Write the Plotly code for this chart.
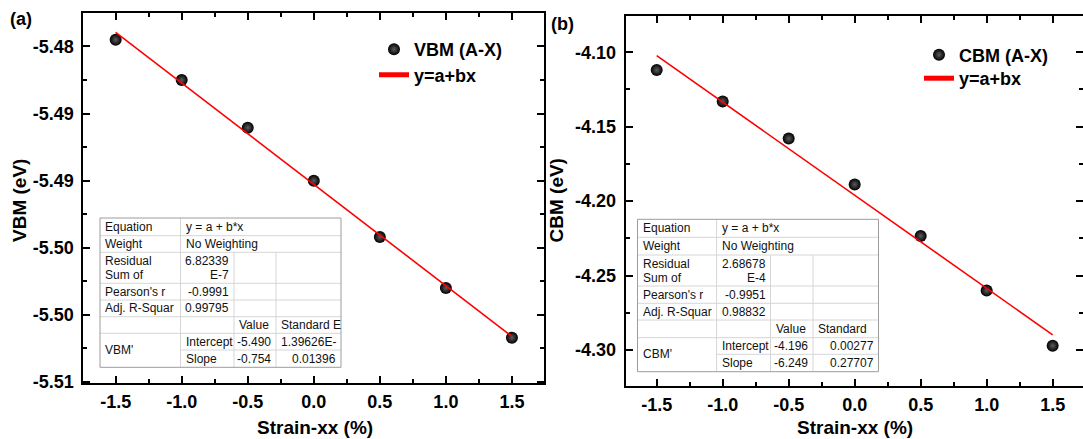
import numpy as np
import plotly.graph_objects as go

# ---------------- data ----------------
strain = [-1.5, -1.0, -0.5, 0.0, 0.5, 1.0, 1.5]
vbm = [-5.4795, -5.4825, -5.48605, -5.4900, -5.4942, -5.4980, -5.5017]
cbm = [-4.1119, -4.1330, -4.1580, -4.1888, -4.2234, -4.2601, -4.2971]

x_tickvals = [-1.5, -1.0, -0.5, 0.0, 0.5, 1.0, 1.5]
x_ticktext = ["-1.5", "-1.0", "-0.5", "0.0", "0.5", "1.0", "1.5"]
vbm_tickvals = [-5.480, -5.485, -5.490, -5.495, -5.500, -5.505]
vbm_ticktext = ["-5.48", "-5.49", "-5.49", "-5.50", "-5.50", "-5.51"]
cbm_tickvals = [-4.10, -4.15, -4.20, -4.25, -4.30]
cbm_ticktext = ["-4.10", "-4.15", "-4.20", "-4.25", "-4.30"]

stat_labels = ["Equation", "Weight", "Residual|Sum of", "Pearson's r", "Adj. R-Squar"]
vbm_stat_values = ["y = a + b*x", "No Weighting", "6.82339|E-7", "-0.9991", "0.99795"]
cbm_stat_values = ["y = a + b*x", "No Weighting", "2.68678|E-4", "-0.9951", "0.98832"]
param_names = ["Intercept", "Slope"]
vbm_param_header = ["Value", "Standard E"]
cbm_param_header = ["Value", "Standard"]
vbm_param_values = ["-5.490", "-0.754"]
vbm_param_errors = ["1.39626E-", "0.01396"]
cbm_param_values = ["-4.196", "-6.249"]
cbm_param_errors = ["0.00277", "0.27707"]

# ---------------- layout helpers ----------------
W, H = 1083, 439
def px(x):
    return x / W
def py(y):
    return 1 - y / H

FONT = "Arial, Liberation Sans, sans-serif"

fig = go.Figure()

def fit_line(x, y):
    b, a = np.polyfit(x, y, 1)
    xs = [min(x), max(x)]
    return xs, [a + b * v for v in xs]

marker = dict(size=12, color="black", symbol="circle",
              gradient=dict(type="radial", color="#5c5c5c"),
              line=dict(width=0))

fx, fy = fit_line(strain, vbm)
fig.add_trace(go.Scatter(x=strain, y=vbm, mode="markers", marker=marker,
                         name="VBM (A-X)", xaxis="x", yaxis="y", legend="legend"))
fig.add_trace(go.Scatter(x=fx, y=fy, mode="lines", line=dict(color="#ff0000", width=1.6),
                         name="y=a+bx", xaxis="x", yaxis="y", legend="legend2"))
fx2, fy2 = fit_line(strain, cbm)
fig.add_trace(go.Scatter(x=strain, y=cbm, mode="markers", marker=marker,
                         name="CBM (A-X)", xaxis="x2", yaxis="y2", legend="legend3"))
fig.add_trace(go.Scatter(x=fx2, y=fy2, mode="lines", line=dict(color="#ff0000", width=1.6),
                         name="y=a+bx", xaxis="x2", yaxis="y2", legend="legend4"))

tickfont = dict(family=FONT, size=18, color="black", weight="bold")
common = dict(showline=True, linewidth=2, linecolor="black", mirror="allticks",
              ticks="inside", ticklen=7, tickwidth=2, tickcolor="black", automargin=False,
              showgrid=False, zeroline=False, tickfont=tickfont)

xaxis_common = dict(common, tickvals=x_tickvals, ticktext=x_ticktext, ticklabelstandoff=1,
                    minor=dict(ticks="inside", ticklen=4, tickwidth=2, tickcolor="black",
                               dtick=0.25, tick0=0, showgrid=False))

legfont = dict(family=FONT, size=18, color="black", weight="bold")
def leg(xl, ytop):
    return dict(x=px(xl), y=py(ytop), xanchor="left", yanchor="top",
                xref="container", yref="container",
                bgcolor="rgba(0,0,0,0)", font=legfont, itemsizing="constant")

fig.update_layout(
    width=W, height=H,
    autosize=False,
    margin=dict(l=0, r=0, t=0, b=0, pad=0, autoexpand=False),
    paper_bgcolor="white", plot_bgcolor="white",
    xaxis=dict(xaxis_common, domain=[px(83.3), px(544.3)], range=[-1.745, 1.745], anchor="y"),
    yaxis=dict(common, domain=[py(383.3), py(13.3)], range=[-5.5051, -5.47753], anchor="x",
               tickvals=vbm_tickvals, ticktext=vbm_ticktext, ticklabelstandoff=4,
               minor=dict(ticks="inside", ticklen=4, tickwidth=2, tickcolor="black",
                          dtick=0.0025, tick0=-5.48, showgrid=False)),
    xaxis2=dict(xaxis_common, domain=[px(625.7), 1.0], range=[-1.735, 1.73], anchor="y2"),
    yaxis2=dict(common, domain=[py(386), py(15.5)], range=[-4.3242, -4.0753], anchor="x2",
                tickvals=cbm_tickvals, ticktext=cbm_ticktext, ticklabelstandoff=4,
                minor=dict(ticks="inside", ticklen=4, tickwidth=2, tickcolor="black",
                           dtick=0.025, tick0=-4.1, showgrid=False)),
    legend=leg(374, 31),
    legend2=leg(374, 56.5),
    legend3=leg(919, 36.5),
    legend4=leg(919, 60),
    showlegend=True,
)

annotations = []
shapes = []

def text(x, y, s, size=12, anchor="left", bold=False, angle=0, color="#111111"):
    annotations.append(dict(x=px(x), y=py(y), xref="paper", yref="paper", text=s,
                            showarrow=False, xanchor=anchor, yanchor="middle", textangle=angle,
                            font=dict(family=FONT, size=size, color=color,
                                      weight="bold" if bold else "normal")))

# axis titles and panel labels
text(19, 201, "VBM (eV)", size=19, anchor="center", bold=True, angle=-90, color="black")
text(555.5, 201, "CBM (eV)", size=19, anchor="center", bold=True, angle=-90, color="black")
text(315, 427, "Strain-xx (%)", size=19, anchor="center", bold=True, color="black")
text(855, 427, "Strain-xx (%)", size=19, anchor="center", bold=True, color="black")
text(21, 19, "(a)", size=18, anchor="center", bold=True, color="black")
text(562, 24, "(b)", size=18, anchor="center", bold=True, color="black")

def line(x0, y0, x1, y1, color="#d6d6d6", width=1):
    shapes.append(dict(type="line", xref="paper", yref="paper",
                       x0=px(x0), y0=py(y0), x1=px(x1), y1=py(y1),
                       line=dict(color=color, width=width), layer="above"))

def draw_table(xs, ys, stat_vals, header, pname, pvals, perrs):
    shapes.append(dict(type="rect", xref="paper", yref="paper",
                       x0=px(xs[0]), y0=py(ys[8]), x1=px(xs[4]), y1=py(ys[0]),
                       fillcolor="white", line=dict(color="white", width=0), layer="above"))
    for i in range(1, 8):
        x_start = xs[1] if i == 7 else xs[0]
        line(x_start, ys[i], xs[4], ys[i])
    line(xs[1], ys[0], xs[1], ys[8])
    line(xs[2], ys[2], xs[2], ys[8])
    line(xs[3], ys[2], xs[3], ys[8])
    shapes.append(dict(type="rect", xref="paper", yref="paper",
                       x0=px(xs[0]), y0=py(ys[8]), x1=px(xs[4]), y1=py(ys[0]),
                       line=dict(color="#9c9c9c", width=1), layer="above"))
    pad = 3
    for k in range(5):
        yc = (ys[k] + ys[k + 1]) / 2
        lab = stat_labels[k]
        val = stat_vals[k]
        if "|" in lab:
            l1, l2 = lab.split("|")
            text(xs[0] + pad, yc - 7, l1)
            text(xs[0] + pad, yc + 7, l2)
        else:
            text(xs[0] + pad, yc, lab)
        if k < 2:
            text(xs[1] + pad, yc, val)
        elif "|" in val:
            v1, v2 = val.split("|")
            text(xs[2] - pad, yc - 7, v1, anchor="right")
            text(xs[2] - pad, yc + 7, v2, anchor="right")
        else:
            text(xs[2] - pad, yc, val, anchor="right")
    yc = (ys[5] + ys[6]) / 2
    text(xs[2] + pad, yc, header[0])
    text(xs[3] + pad, yc, header[1])
    text(xs[0] + pad, ys[7], pname)
    for j in range(2):
        yc = (ys[6 + j] + ys[7 + j]) / 2
        text(xs[1] + pad, yc, param_names[j])
        text(xs[3] - pad, yc, pvals[j], anchor="right")
        text(xs[4] - pad, yc, perrs[j], anchor="right")

draw_table([100, 180.5, 234, 276, 341],
           [218, 235.7, 252.3, 283.3, 300, 316.7, 333.3, 350, 367.3],
           vbm_stat_values, vbm_param_header, "VBM'", vbm_param_values, vbm_param_errors)
draw_table([637.5, 716.6, 770.5, 813, 878.5],
           [219.3, 237.3, 255, 286, 303.3, 320, 337.7, 354.3, 371.7],
           cbm_stat_values, cbm_param_header, "CBM'", cbm_param_values, cbm_param_errors)

fig.update_layout(annotations=annotations, shapes=shapes)
fig.write_html("out.html")
